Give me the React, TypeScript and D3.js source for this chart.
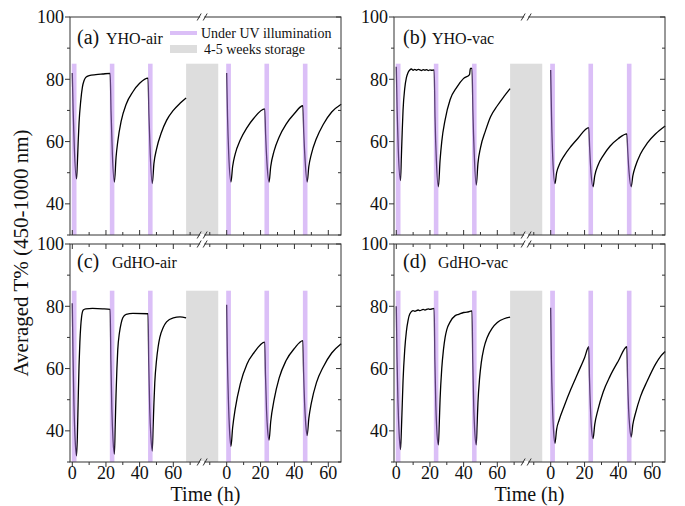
import React from 'react';
import * as d3 from 'd3';

type Pt = [number, number];

// ---- data (hours, averaged T%) ----
const yhoAirBefore: Pt[] = [[0,82],[0.5,70],[1.2,58],[2.5,48],[3,53],[3.5,60],[4,66],[5,73],[6,77.5],[7,79.6],[8,80.6],[10,81.2],[14,81.5],[18,81.7],[22.5,81.9],[23,70],[23.8,56],[25,47],[26,55],[27,60],[29,66.5],[32,72],[36,76],[40,78.7],[45,80.4],[45.5,69],[46.3,56],[47.5,46.5],[48.5,53],[50,57.5],[53,63],[56,66.8],[60,70],[64,72.3],[67.6,74]];
const yhoAirAfter: Pt[] = [[0,82],[0.5,68],[1.2,56],[2.5,47],[3.5,52],[5,56],[8,60.5],[12,64.5],[16,67.5],[22.5,70.5],[23,62],[23.8,53],[25,47],[26,52],[28,57],[31,61.5],[35,65.5],[40,69],[45,71.5],[45.5,63],[46.3,54],[47.5,47],[48.5,52],[50,56],[53,61],[57,65.5],[62,69.5],[67.6,72]];
const yhoVacBefore: Pt[] = [[0,84],[0.5,70],[1.2,57],[2.5,47.5],[3,55],[3.5,63],[4,70],[5,77],[6,80.5],[7,82.2],[8,83],[9,83.3],[10,82.9],[11,83.2],[12,82.9],[13,83.2],[14,83.0],[15,82.8],[16,83.1],[17,82.9],[18,83.1],[19,82.8],[20,83.0],[21,82.9],[22.5,83],[23,68],[23.8,54],[25,45.5],[26,54],[27,60],[29,67],[32,73.5],[36,77.5],[40,80.3],[43.5,81.5],[44,83.5],[45,83.5],[45.5,70],[46.3,56],[47.5,46],[48.5,53],[50,58],[53,63.5],[56,68],[60,71.5],[64,74.5],[67.6,77]];
const yhoVacAfter: Pt[] = [[0,83],[0.5,68],[1.2,55],[2.5,46.5],[3.5,50],[5,52.5],[8,55.5],[12,58.5],[16,61],[22.5,64.5],[23,58],[23.8,50],[25,45.5],[26,49],[28,52.5],[31,55.5],[35,58.5],[40,61],[45,62.5],[45.5,57],[46.3,50],[47.5,45.5],[48.5,49],[50,52],[53,56],[57,59.5],[62,62.5],[67.6,65]];
const gdhoAirBefore: Pt[] = [[0,81],[0.4,65],[1,48],[1.7,37],[2.5,32],[3,38],[3.5,50],[4,61],[4.5,68.5],[5,73.5],[5.5,76.5],[6.5,78.8],[8,79.2],[12,79.3],[18,79.2],[22.5,79],[22.9,63],[23.5,47],[24.2,37],[25,32.5],[25.5,42],[26,52],[26.5,60],[27,66],[28,71.5],[29,74.5],[30,76.3],[32,77.4],[36,77.7],[45,77.6],[45.4,62],[46,47],[46.7,38],[47.5,33.5],[48,41],[48.5,49],[49,55.5],[50,62.5],[51,67],[52,70],[54,73.2],[56,75],[60,76.3],[64,76.6],[67.6,76.3]];
const gdhoAirAfter: Pt[] = [[0,80.5],[0.4,64],[1,50],[1.7,40],[2.5,35],[3.5,41],[5,47],[8,55],[12,61.5],[16,65],[22.5,68.5],[22.9,58],[23.5,47],[24.2,40],[25,37],[26,43],[28,50],[31,57],[35,62.5],[40,66.5],[45,69],[45.4,59],[46,49],[46.7,42],[47.5,38.5],[48.5,44],[50,49],[53,55.5],[57,60.5],[62,65],[67.6,68]];
const gdhoVacBefore: Pt[] = [[0,80],[0.4,64],[1,49],[1.7,39],[2.5,34],[3,40],[3.5,48],[4,56],[5,66],[6,72],[7,75.5],[8,77.5],[10,78.6],[11,78.4],[13,78.8],[14,78.6],[16,79],[17,78.8],[19,79.2],[20,79.0],[22.5,79.3],[22.9,63],[23.5,48],[24.2,39],[25,35.5],[25.5,42],[26,50],[27,60],[28,66],[29,70],[30,72.5],[32,75],[35,77],[37,77.4],[40,78],[42,78.1],[45,78.5],[45.4,63],[46,48],[46.7,39],[47.5,35.5],[48,42],[48.5,49],[49.5,57],[50.5,62],[52,66.5],[54,70],[57,73],[60,74.8],[64,76],[67.6,76.5]];
const gdhoVacAfter: Pt[] = [[0,79.5],[0.4,63],[1,49],[1.7,40],[2.5,36],[3.5,40.5],[5,43.5],[8,48],[12,53.5],[16,58.5],[20,63.5],[22.5,67],[22.9,57],[23.5,47],[24.2,40],[25,37.5],[26,42],[28,47],[31,52.5],[35,57.5],[40,62.5],[45,67],[45.4,57],[46,47],[46.7,41],[47.5,38],[48.5,42],[50,45.5],[53,51],[57,56],[62,61.5],[65,64],[67.6,65.5]];

const uvWindows: Pt[] = [[-0.3, 2.5], [22.3, 25], [45, 47.7]];
const bandTop = 85;
const yMajor = [40, 60, 80, 100];
const yMinor = [30, 50, 70, 90];
const xMajor = [0, 20, 40, 60];
const xMinorBefore = [10, 30, 50, 70];
const xMinorAfter = [-10, 10, 30, 50];
const panelTags = ['(a)', '(b)', '(c)', '(d)'];
const sampleNames = ['YHO-air', 'YHO-vac', 'GdHO-air', 'GdHO-vac'];
const seriesBefore = [yhoAirBefore, yhoVacBefore, gdhoAirBefore, gdhoVacBefore];
const seriesAfter = [yhoAirAfter, yhoVacAfter, gdhoAirAfter, gdhoVacAfter];
const legendLabels = ['Under UV illumination', '4-5 weeks storage'];

const FONT = '"Liberation Serif", "Times New Roman", serif';
const UV = '#b880f0';
const STORE = '#dddddd';
const AXIS = '#333';

const PW = 271;
const PH = 218;

function Panel({ idx, left, top }: { idx: number; left: number; top: number }) {
  const isBottom = idx >= 2;
  const y = d3.scaleLinear().domain([30, 100]).range([top + PH, top]);
  const xB = d3.scaleLinear().domain([0, 60]).range([left + 2.3, left + 103.3]);
  const xA = d3.scaleLinear().domain([0, 60]).range([left + 156.7, left + 258.3]);
  const lineB = d3.line<Pt>().x(d => xB(d[0])).y(d => y(d[1])).curve(d3.curveMonotoneX);
  const lineA = d3.line<Pt>().x(d => xA(d[0])).y(d => y(d[1])).curve(d3.curveMonotoneX);
  const gx0 = xB(67.6);
  const gx1 = xA(-5);
  const brk = (gx0 + gx1) / 2;
  const bottomY = top + PH;
  const labelFs = 18;
  const outDir = isBottom ? 1 : -1;

  const xTicks: { x: number; major: boolean; lab?: number }[] = [];
  xMajor.forEach(v => xTicks.push({ x: xB(v), major: true, lab: v }));
  xMinorBefore.forEach(v => xTicks.push({ x: xB(v), major: false }));
  xMajor.forEach(v => xTicks.push({ x: xA(v), major: true, lab: v }));
  xMinorAfter.forEach(v => xTicks.push({ x: xA(v), major: false }));

  const tagX = idx % 2 === 0 ? left + 7 : left + 9;
  const tagY = isBottom ? top + 24 : top + 27;
  const nameX = tagX + (isBottom ? 35 : 29);

  return (
    <g>
      <rect x={gx0} y={y(bandTop)} width={gx1 - gx0} height={y(30) - y(bandTop)} fill={STORE} />
      <path d={lineB(seriesBefore[idx]) || ''} fill="none" stroke="#000" strokeWidth={1.3} />
      <path d={lineA(seriesAfter[idx]) || ''} fill="none" stroke="#000" strokeWidth={1.3} />
      {uvWindows.map((w, i) => (
        <rect key={'b' + i} x={xB(w[0])} y={y(bandTop)} width={xB(w[1]) - xB(w[0])} height={y(30) - y(bandTop)} fill={UV} fillOpacity={0.5} />
      ))}
      {uvWindows.map((w, i) => (
        <rect key={'a' + i} x={xA(w[0])} y={y(bandTop)} width={xA(w[1]) - xA(w[0])} height={y(30) - y(bandTop)} fill={UV} fillOpacity={0.5} />
      ))}
      <rect x={left} y={top} width={PW} height={PH} fill="none" stroke={AXIS} strokeWidth={1} />
      {yMajor.map(v => (
        <g key={'ym' + v}>
          <line x1={left - 5} x2={left} y1={y(v)} y2={y(v)} stroke={AXIS} />
          <line x1={left + PW} x2={left + PW - 5} y1={y(v)} y2={y(v)} stroke={AXIS} />
          <text x={left - 6} y={y(v)} dy="0.35em" textAnchor="end" fontFamily={FONT} fontSize={labelFs} fill="#111">{v}</text>
        </g>
      ))}
      {yMinor.map(v => (
        <g key={'yn' + v}>
          <line x1={left - 3} x2={left} y1={y(v)} y2={y(v)} stroke={AXIS} />
          <line x1={left + PW} x2={left + PW - 3} y1={y(v)} y2={y(v)} stroke={AXIS} />
        </g>
      ))}
      {xTicks.map((t, i) => (
        <line key={'xt' + i} x1={t.x} x2={t.x} y1={bottomY} y2={bottomY + outDir * (t.major ? 5 : 3)} stroke={AXIS} />
      ))}
      {isBottom && xTicks.map((t, i) => (
        <line key={'xtt' + i} x1={t.x} x2={t.x} y1={top} y2={top + (t.major ? 5 : 3)} stroke={AXIS} />
      ))}
      {isBottom && xTicks.filter(t => t.lab !== undefined).map((t, i) => (
        <text key={'xl' + i} x={t.x} y={bottomY + 17} textAnchor="middle" fontFamily={FONT} fontSize={labelFs} fill="#111">{t.lab}</text>
      ))}
      {[top, bottomY].map((yy, i) => (
        <g key={'brk' + i}>
          <rect x={brk - 2} y={yy - 1} width={4} height={2} fill="#fff" />
          <line x1={brk - 5} y1={yy + 3.5} x2={brk - 1} y2={yy - 3.5} stroke={AXIS} strokeWidth={1} />
          <line x1={brk + 1} y1={yy + 3.5} x2={brk + 5} y2={yy - 3.5} stroke={AXIS} strokeWidth={1} />
        </g>
      ))}
      <text x={tagX} y={tagY} fontFamily={FONT} fontSize={20} fill="#111">{panelTags[idx]}</text>
      <text x={nameX} y={tagY} fontFamily={FONT} fontSize={16} fill="#111">{sampleNames[idx]}</text>
      {isBottom && (
        <text x={(left + left + PW) / 2} y={500.5} textAnchor="middle" fontFamily={FONT} fontSize={20} fill="#111">Time (h)</text>
      )}
    </g>
  );
}

export default function App() {
  return (
    <svg width={685} height={506} style={{ position: 'absolute', left: 0, top: 0, background: '#fff' }}>
      <rect x={0} y={0} width={685} height={506} fill="#fff" />
      <Panel idx={0} left={70} top={17} />
      <Panel idx={1} left={394} top={17} />
      <Panel idx={2} left={70} top={244} />
      <Panel idx={3} left={394} top={244} />
      <line x1={170} x2={197} y1={33} y2={33} stroke={UV} strokeOpacity={0.5} strokeWidth={4} />
      <text x={201} y={37.5} fontFamily={FONT} fontSize={14} fill="#111">{legendLabels[0]}</text>
      <rect x={170} y={45} width={27} height={8} fill={STORE} />
      <text x={204} y={54} fontFamily={FONT} fontSize={14} fill="#111">{legendLabels[1]}</text>
      <text transform="translate(28,253) rotate(-90)" textAnchor="middle" fontFamily={FONT} fontSize={21} fill="#111">Averaged T% (450-1000 nm)</text>
    </svg>
  );
}
